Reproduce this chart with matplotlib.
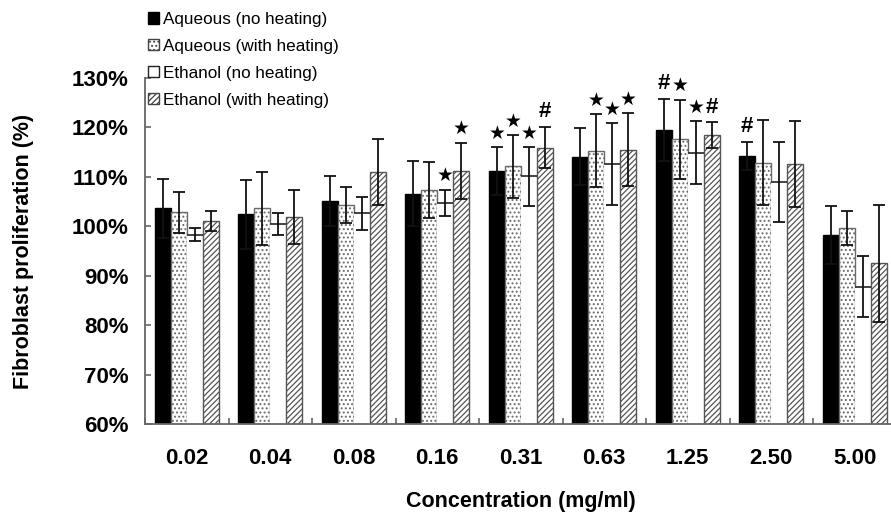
import numpy as np
import matplotlib.pyplot as plt
from matplotlib.patches import Patch

plt.rcParams['font.family'] = ['Liberation Sans', 'DejaVu Sans']
plt.rcParams['hatch.linewidth'] = 0.9

concentrations = ['0.02', '0.04', '0.08', '0.16', '0.31', '0.63', '1.25', '2.50', '5.00']
series = ['Aqueous (no heating)', 'Aqueous (with heating)',
          'Ethanol (no heating)', 'Ethanol (with heating)']

aq_no = [103.6, 102.4, 105.1, 106.6, 111.2, 114.1, 119.5, 114.2, 98.3]
aq_heat = [102.8, 103.6, 104.3, 107.4, 112.1, 115.3, 117.6, 112.9, 99.7]
eth_no = [98.3, 100.5, 102.6, 104.7, 110.1, 112.6, 114.9, 108.9, 87.8]
eth_heat = [101.1, 101.9, 111.0, 111.2, 115.9, 115.5, 118.4, 112.6, 92.5]

aq_no_err = [5.9, 7.0, 5.1, 6.6, 4.8, 5.7, 6.3, 2.8, 5.9]
aq_heat_err = [4.1, 7.4, 3.6, 5.7, 6.4, 7.4, 8.0, 8.6, 3.4]
eth_no_err = [1.3, 2.2, 3.4, 2.7, 5.9, 8.3, 6.3, 8.1, 6.1]
eth_heat_err = [2.0, 5.4, 6.6, 5.7, 4.2, 7.4, 2.6, 8.6, 11.8]

# significance marks: (group index, series index, symbol)
marks = [(3, 2, '★'), (3, 3, '★'),
         (4, 0, '★'), (4, 1, '★'), (4, 2, '★'), (4, 3, '#'),
         (5, 1, '★'), (5, 2, '★'), (5, 3, '★'),
         (6, 0, '#'), (6, 1, '★'), (6, 2, '★'), (6, 3, '#'),
         (7, 0, '#')]

values = [aq_no, aq_heat, eth_no, eth_heat]
errors = [aq_no_err, aq_heat_err, eth_no_err, eth_heat_err]
styles = [dict(color='black', edgecolor='black', hatch=None),
          dict(color='white', edgecolor='#6a6a6a', hatch='....'),
          dict(color='white', edgecolor='none', hatch=None),
          dict(color='white', edgecolor='#555555', hatch='//////')]

fig = plt.figure(figsize=(8.91, 5.26), dpi=100)
ax = fig.add_axes([145 / 891, 1 - 424 / 526, 751.5 / 891, 346 / 526])

x = np.arange(len(concentrations))
w = 0.1916
for k in range(4):
    pos = x + (k - 1.5) * w
    st = styles[k]
    ax.bar(pos, np.array(values[k]) - 60, w, bottom=60, color=st['color'],
           edgecolor=st['edgecolor'], hatch=st['hatch'], linewidth=1.0, zorder=2)
    if k == 2:
        ax.hlines(values[k], pos - w / 2, pos + w / 2, color='#222222', lw=1.2, zorder=3)
    ax.errorbar(pos, values[k], yerr=errors[k], fmt='none', ecolor='#111111',
                elinewidth=1.3, capsize=4.5, capthick=1.3, zorder=4)

for g, s, sym in marks:
    px = x[g] + (s - 1.5) * w
    top = values[s][g] + errors[s][g]
    if sym == '★':
        ax.annotate(sym, (px, top), xytext=(0, 10), textcoords='offset points',
                    ha='center', va='center', fontsize=13.5, fontweight='bold',
                    family=['DejaVu Sans'], zorder=5)
    else:
        ax.annotate(sym, (px, top), xytext=(0, 11), textcoords='offset points',
                    ha='center', va='center', fontsize=16, fontweight='bold', zorder=5)

ax.set_ylim(60, 130)
ax.set_xlim(-0.5, 8.5)
ax.set_yticks(np.arange(60, 131, 10))
ax.set_yticklabels(['%d%%' % v for v in range(60, 131, 10)])
ax.set_xticks(np.arange(-0.5, 9, 1))
ax.set_xticklabels([])
ax.set_xticks(x, minor=True)
ax.set_xticklabels(concentrations, minor=True)

for sp in ['top', 'right']:
    ax.spines[sp].set_visible(False)
for sp in ['left', 'bottom']:
    ax.spines[sp].set_color('#666666')
    ax.spines[sp].set_linewidth(1.3)

ax.tick_params(axis='both', which='major', direction='in', length=4, width=1.2,
               color='#666666')
ax.tick_params(axis='y', labelsize=16, pad=12)
ax.tick_params(axis='x', which='minor', length=0, labelsize=16, pad=17)
for lab in ax.get_yticklabels() + ax.get_xticklabels(minor=True):
    lab.set_fontweight('bold')

ax.set_xlabel('Concentration (mg/ml)', fontsize=15.5, fontweight='bold')
ax.xaxis.set_label_coords(0.5, -0.195)
ax.set_ylabel('Fibroblast proliferation (%)', fontsize=15.5, fontweight='bold')
ax.yaxis.set_label_coords(-0.148, 0.5)

handles = [Patch(facecolor='black', edgecolor='black', label=series[0]),
           Patch(facecolor='white', edgecolor='#444444', hatch='....', label=series[1]),
           Patch(facecolor='white', edgecolor='#222222', label=series[2]),
           Patch(facecolor='white', edgecolor='#444444', hatch='//////', label=series[3])]
fig.legend(handles=handles, loc='upper left', bbox_to_anchor=(141 / 891, 1 - 5 / 526),
           frameon=False, fontsize=12.3, handlelength=0.65, handleheight=0.65,
           handletextpad=0.25, labelspacing=0.7, borderaxespad=0)

fig.savefig('out.png', dpi=100)
